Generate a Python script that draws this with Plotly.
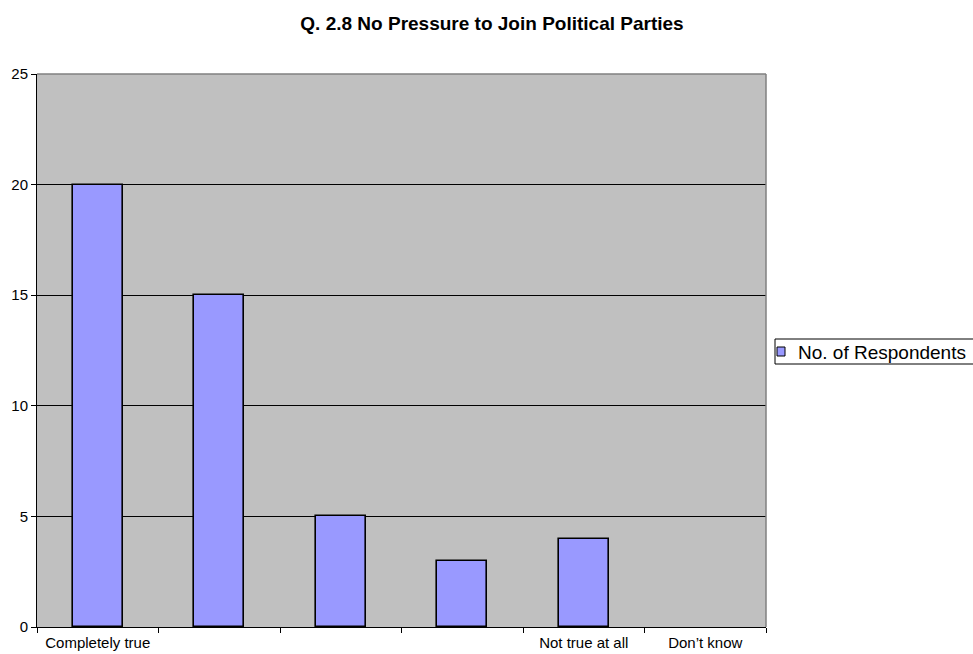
import plotly.graph_objects as go

# Survey responses for Q. 2.8
categories = ["Completely true", "", "", "", "Not true at all", "Don\u2019t know"]
respondents = [20, 15, 5, 3, 4, 0]
series_name = "No. of Respondents"
y_ticks = [0, 5, 10, 15, 20, 25]

BAR_COLOR = "#9999FF"
W, H = 973, 654
L, R, T, B = 37, 207, 74, 27
plot_w, plot_h = W - L - R, H - T - B


def px_x(px):
    return (px - L) / plot_w


def px_y(py):
    return (H - B - py) / plot_h


positions = list(range(len(categories)))

fig = go.Figure()
fig.add_trace(go.Bar(
    x=positions,
    y=respondents,
    name=series_name,
    width=0.41,
    marker=dict(color=BAR_COLOR,
                line=dict(color="black", width=[1.6 if v > 0 else 0 for v in respondents])),
    showlegend=False,
))

fig.update_layout(
    width=W,
    height=H,
    margin=dict(l=L, r=R, t=T, b=B),
    paper_bgcolor="white",
    plot_bgcolor="#C0C0C0",
    font=dict(family="Arial, Liberation Sans, sans-serif", color="black", size=14),
    title=dict(
        text="<b>Q. 2.8 No Pressure to Join Political Parties</b>",
        x=492 / W, xref="container", xanchor="center",
        y=1 - 23 / H, yref="container", yanchor="middle",
        font=dict(size=19, family="Arial, Liberation Sans, sans-serif"),
    ),
    showlegend=False,
    bargap=0,
)

fig.update_xaxes(
    range=[-0.5, len(categories) - 0.5],
    tickmode="array",
    tickvals=positions,
    ticktext=categories,
    ticks="",
    ticklabelstandoff=2,
    automargin=False,
    showgrid=False,
    zeroline=False,
    showline=True, linecolor="black", linewidth=1,
    tickfont=dict(size=15),
    minor=dict(
        tickmode="array",
        tickvals=[p - 0.5 for p in positions] + [positions[-1] + 0.5],
        ticks="outside", ticklen=5, tickcolor="black", tickwidth=1,
        showgrid=False,
    ),
    fixedrange=True,
)

fig.update_yaxes(
    range=[0, 25],
    tickmode="array",
    tickvals=y_ticks,
    ticks="outside", ticklen=5, tickcolor="black", tickwidth=1,
    automargin=False,
    showgrid=True, gridcolor="black", gridwidth=1,
    zeroline=False,
    showline=True, linecolor="black", linewidth=1,
    tickfont=dict(size=15),
    fixedrange=True,
)

# Grey frame on the top and right edges of the plotting area
fig.add_shape(type="line", xref="paper", yref="paper", x0=0, x1=1, y0=1, y1=1,
              line=dict(color="#808080", width=1.5), layer="above")
fig.add_shape(type="line", xref="paper", yref="paper", x0=1, x1=1, y0=0, y1=1,
              line=dict(color="#808080", width=1.5), layer="above")

# Legend box at the right, running past the page edge
fig.add_shape(type="rect", xref="paper", yref="paper",
              x0=px_x(775), x1=px_x(1000), y0=px_y(364), y1=px_y(339),
              line=dict(color="black", width=1), fillcolor="white", layer="above")
fig.add_shape(type="rect", xref="paper", yref="paper",
              x0=px_x(777), x1=px_x(785), y0=px_y(356), y1=px_y(347),
              line=dict(color="black", width=1), fillcolor=BAR_COLOR, layer="above")
fig.add_annotation(text=series_name, xref="paper", yref="paper",
                   x=px_x(796), y=px_y(352), xanchor="left", yanchor="middle",
                   showarrow=False, font=dict(size=19))

fig.write_html("out.html")
